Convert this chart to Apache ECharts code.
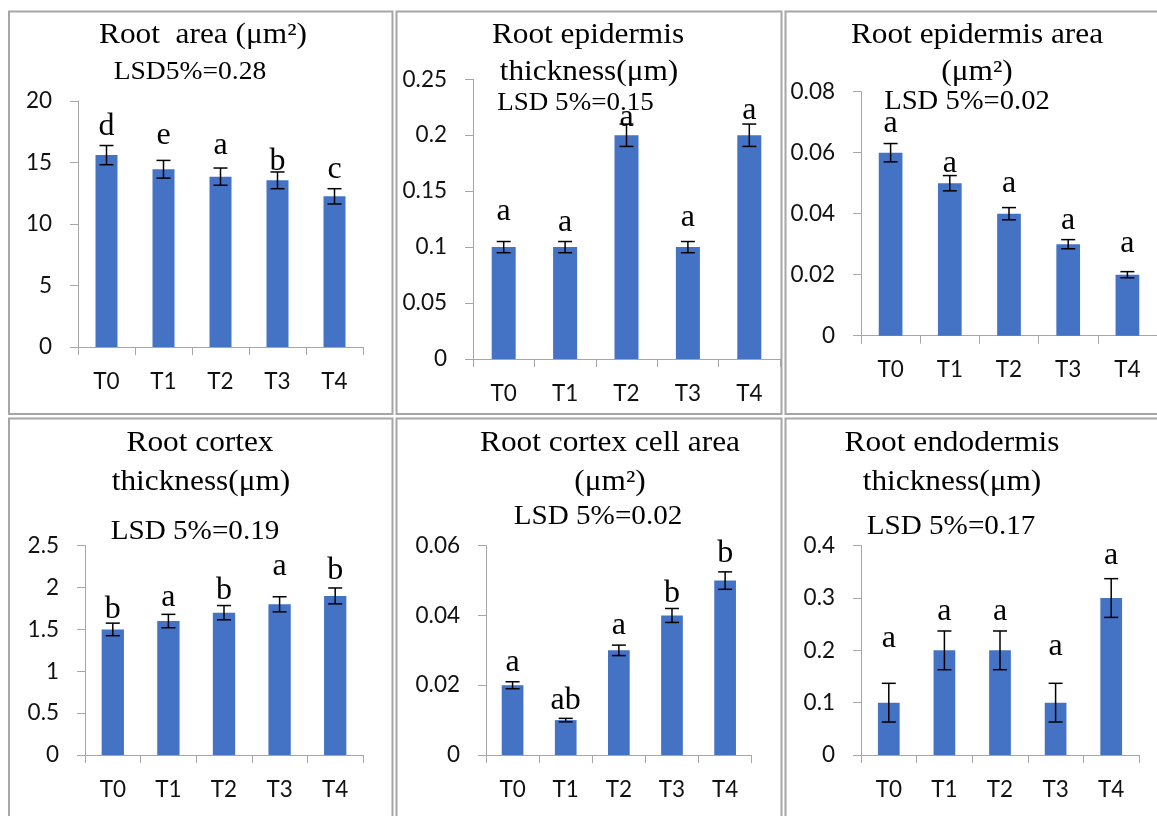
<!doctype html>
<html>
<head>
<meta charset="utf-8">
<title>Root anatomy</title>
<script src="https://cdn.jsdelivr.net/npm/echarts@6/dist/echarts.min.js"></script>
<style>
  html, body { margin: 0; padding: 0; background: #fff; overflow: hidden; }
  #chart { width: 1157px; height: 816px; }
</style>
</head>
<body>
<div id="chart"></div>
<script>
// categories
const categories = ['T0', 'T1', 'T2', 'T3', 'T4'];

// Root area (um2)
const rootArea = [15.6, 14.45, 13.85, 13.55, 12.25];
const rootAreaErr = [0.78, 0.72, 0.7, 0.68, 0.62];
const rootAreaLetters = ['d', 'e', 'a', 'b', 'c'];

// Root epidermis thickness (um)
const epiThick = [0.1, 0.1, 0.2, 0.1, 0.2];
const epiThickErr = [0.005, 0.005, 0.01, 0.005, 0.01];
const epiThickLetters = ['a', 'a', 'a', 'a', 'a'];

// Root epidermis area (um2)
const epiArea = [0.06, 0.05, 0.04, 0.03, 0.02];
const epiAreaErr = [0.003, 0.0025, 0.002, 0.0015, 0.001];
const epiAreaLetters = ['a', 'a', 'a', 'a', 'a'];

// Root cortex thickness (um)
const cortexThick = [1.5, 1.6, 1.7, 1.8, 1.9];
const cortexThickErr = [0.075, 0.08, 0.085, 0.09, 0.095];
const cortexThickLetters = ['b', 'a', 'b', 'a', 'b'];

// Root cortex cell area (um2)
const cortexCell = [0.02, 0.01, 0.03, 0.04, 0.05];
const cortexCellErr = [0.001, 0.0005, 0.0015, 0.002, 0.0025];
const cortexCellLetters = ['a', 'ab', 'a', 'b', 'b'];

// Root endodermis thickness (um)
const endoThick = [0.1, 0.2, 0.2, 0.1, 0.3];
const endoThickErr = [0.037, 0.037, 0.037, 0.037, 0.037];
const endoThickLetters = ['a', 'a', 'a', 'a', 'a'];

// y axis ticks
const yMax = [20, 0.25, 0.08, 2.5, 0.06, 0.4];
const yStep = [5, 0.05, 0.02, 0.5, 0.02, 0.1];

// titles
const titleLines = [
  ['Root  area (\u03bcm\u00b2)'],
  ['Root epidermis', 'thickness(\u03bcm)'],
  ['Root epidermis area', '(\u03bcm\u00b2)'],
  ['Root cortex', 'thickness(\u03bcm)'],
  ['Root cortex cell area', '(\u03bcm\u00b2)'],
  ['Root endodermis', 'thickness(\u03bcm)']
];
const lsdTexts = ['LSD5%=0.28', 'LSD 5%=0.15', 'LSD 5%=0.02', 'LSD 5%=0.19', 'LSD 5%=0.02', 'LSD 5%=0.17'];

const values = [rootArea, epiThick, epiArea, cortexThick, cortexCell, endoThick];
const errors = [rootAreaErr, epiThickErr, epiAreaErr, cortexThickErr, cortexCellErr, endoThickErr];
const letters = [rootAreaLetters, epiThickLetters, epiAreaLetters, cortexThickLetters, cortexCellLetters, endoThickLetters];

// layout (pixels)
const panels = [
  { box: [9, 11.5, 383.5, 402.5], grid: [78, 101, 285, 246], barW: 22,
    titles: [[203, 35]], lsd: [190, 72, 26], gaps: [19, 21, 19, 10, 16] },
  { box: [396.5, 11.5, 385, 402.5], grid: [473, 79.3, 307, 279.7], barW: 24,
    titles: [[588, 35], [589, 72]], lsd: [575.5, 103, 25.5], gaps: [27, 16, 3, 21, 10] },
  { box: [785.5, 11.5, 420, 402.5], grid: [861, 91.7, 300, 244], barW: 23.7,
    titles: [[977, 35], [977, 72]], lsd: [967, 102, 27], gaps: [17, 9, 21, 16, 25] },
  { box: [9, 418.5, 383.5, 420], grid: [85, 545.7, 278, 209.3], barW: 22.3,
    titles: [[200, 443], [201, 482]], lsd: [195, 532, 27.5], gaps: [14, 13, 15, 27, 17] },
  { box: [396.5, 418.5, 385, 420], grid: [486, 545.7, 265.7, 209.3], barW: 21.7,
    titles: [[610, 443], [610, 482]], lsd: [598, 517, 27.5], gaps: [16, 18, 16, 15, 18] },
  { box: [785.5, 418.5, 420, 420], grid: [861, 545.7, 278, 209.3], barW: 21.7,
    titles: [[952, 443], [952, 482]], lsd: [951, 527, 27.5], gaps: [41, 16, 16, 33, 19.5] }
];

const axisGray = '#a6a6a6';
const serif = '"Liberation Serif", "Times New Roman", serif';
const letterSize = 32;

function makeText(txt, x, y, size, sx) {
  return {
    type: 'text', x: x, y: y, scaleX: sx, silent: true,
    style: {
      text: txt, x: 0, y: 0, fill: '#000',
      font: size + 'px ' + serif,
      align: 'center', verticalAlign: 'middle',
      textAlign: 'center', textVerticalAlign: 'middle'
    }
  };
}

const graphics = [];
panels.forEach(function (p, k) {
  graphics.push({
    type: 'rect', silent: true, z: 0,
    shape: { x: p.box[0], y: p.box[1], width: p.box[2], height: p.box[3] },
    style: { fill: 'none', stroke: axisGray, lineWidth: 2 }
  });
  titleLines[k].forEach(function (line, j) {
    graphics.push(makeText(line, p.titles[j][0], p.titles[j][1], 29, 1.08));
  });
  graphics.push(makeText(lsdTexts[k], p.lsd[0], p.lsd[1], p.lsd[2], 1.06));
});

function errorRenderer(k) {
  return function (params, api) {
    const i = api.value(0), v = api.value(1), e = api.value(2);
    const top = api.coord([i, v + e]);
    const bot = api.coord([i, v - e]);
    const hw = 7;
    const st = { stroke: '#000', lineWidth: 1.5 };
    const letter = letters[k][params.dataIndex];
    const tall = /[bdfhklt]/.test(letter);
    const ly = top[1] - panels[k].gaps[params.dataIndex] - (tall ? 0 : 0.107 * letterSize);
    return {
      type: 'group',
      children: [
        { type: 'line', shape: { x1: top[0], y1: top[1], x2: bot[0], y2: bot[1] }, style: st },
        { type: 'line', shape: { x1: top[0] - hw, y1: top[1], x2: top[0] + hw, y2: top[1] }, style: st },
        { type: 'line', shape: { x1: bot[0] - hw, y1: bot[1], x2: bot[0] + hw, y2: bot[1] }, style: st },
        { type: 'text', x: top[0], y: ly,
          style: { text: letter, x: 0, y: 0, fill: '#000', font: letterSize + 'px ' + serif,
                   align: 'center', verticalAlign: 'middle',
                   textAlign: 'center', textVerticalAlign: 'middle' } }
      ]
    };
  };
}

const grids = [], xAxes = [], yAxes = [], series = [];
panels.forEach(function (p, k) {
  grids.push({ left: p.grid[0], top: p.grid[1], width: p.grid[2], height: p.grid[3] });
  xAxes.push({
    type: 'category', gridIndex: k, data: categories,
    axisLine: { show: true, lineStyle: { color: axisGray, width: 1 } },
    axisTick: { show: true, length: 8, lineStyle: { color: axisGray } },
    axisLabel: { interval: 0, margin: 23, color: '#111', fontFamily: 'Lato', fontSize: 22.5 },
    splitLine: { show: false }
  });
  yAxes.push({
    type: 'value', gridIndex: k, min: 0, max: yMax[k], interval: yStep[k],
    axisLine: { show: true, lineStyle: { color: axisGray, width: 1 } },
    axisTick: { show: true, length: 8, lineStyle: { color: axisGray } },
    axisLabel: { margin: 26, color: '#111', fontFamily: 'Lato', fontSize: 22.5 },
    splitLine: { show: false }
  });
  series.push({
    type: 'bar', xAxisIndex: k, yAxisIndex: k, data: values[k],
    barWidth: p.barW, itemStyle: { color: '#4472C4' }, silent: true
  });
  series.push({
    type: 'custom', xAxisIndex: k, yAxisIndex: k, z: 5, silent: true,
    renderItem: errorRenderer(k),
    data: values[k].map(function (v, i) { return [i, v, errors[k][i]]; })
  });
});

const chart = echarts.init(document.getElementById('chart'));
chart.setOption({
  animation: false,
  backgroundColor: '#fff',
  grid: grids,
  xAxis: xAxes,
  yAxis: yAxes,
  series: series,
  graphic: { elements: graphics }
});
</script>
</body>
</html>
